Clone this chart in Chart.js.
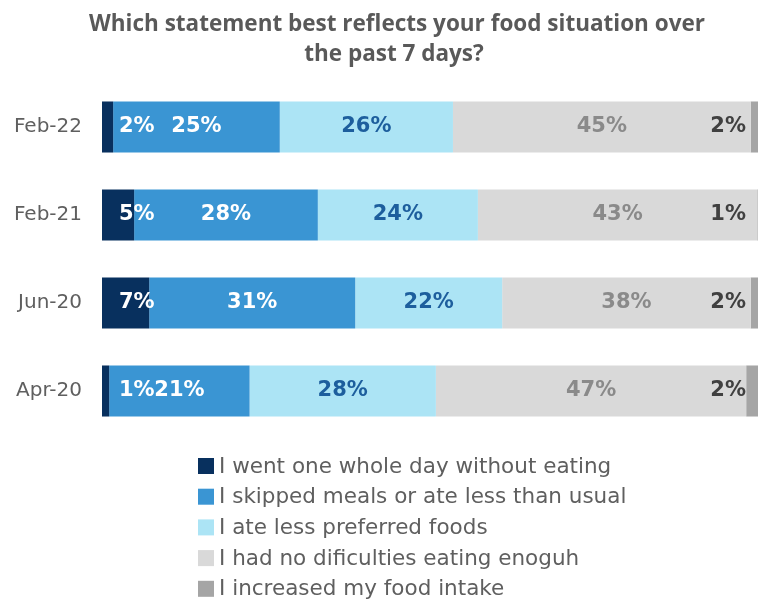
<!DOCTYPE html>
<html>
<head>
<meta charset="utf-8">
<script src="https://cdn.jsdelivr.net/npm/chart.js@4"></script>
<style>
  body { margin: 0; background: #fff; }
  #wrap { width: 758px; height: 600px; }
</style>
</head>
<body>
<div id="wrap"><canvas id="foodChart" width="758" height="600"></canvas></div>
<script>
// values (labels are the rounded values)
const categories = ['Feb-22', 'Feb-21', 'Jun-20', 'Apr-20'];
const seriesNames = [
    'I went one whole day without eating',
    'I skipped meals or ate less than usual',
    'I ate less preferred foods',
    'I had no dificulties eating enoguh',
    'I increased my food intake'
];
const noDayEating = [1.7, 4.9, 7.2, 1.1];
const skippedMeals = [25.4, 28.0, 31.4, 21.4];
const lessPreferred = [26.4, 24.4, 22.4, 28.4];
const noDifficulties = [45.4, 42.6, 37.9, 47.3];
const increasedIntake = [1.5, 1.0, 1.6, 1.8];
const titleLines = ['Which statement best reflects your food situation over', 'the past 7 days?'];

const colors = ['#08305e', '#3a95d3', '#ace4f5', '#d9d9d9', '#a5a5a5'];
const labelColors = ['#ffffff', '#ffffff', '#1d5e9d', '#8a8a8a', '#404040'];

const allSeries = [noDayEating, skippedMeals, lessPreferred, noDifficulties, increasedIntake];

// draws the % inside the bars, plus title and legend
const extras = {
    id: 'extras',
    afterDatasetsDraw(chart) {
        const ctx = chart.ctx;
        const area = chart.chartArea;
        ctx.save();
        ctx.font = 'bold 21px "DejaVu Sans"';
        ctx.textBaseline = 'middle';
        chart.data.datasets.forEach((ds, i) => {
            const meta = chart.getDatasetMeta(i);
            meta.data.forEach((bar, j) => {
                const p = bar.getProps(['x', 'base', 'y'], true);
                const txt = Math.round(ds.data[j]) + '%';
                ctx.fillStyle = labelColors[i];
                if (i === 0) {
                    ctx.textAlign = 'left';
                    ctx.fillText(txt, p.base + 17, p.y);
                } else if (i === 4) {
                    ctx.textAlign = 'right';
                    ctx.fillText(txt, area.right - 12, p.y);
                } else {
                    ctx.textAlign = 'center';
                    ctx.fillText(txt, (p.x + p.base) / 2, p.y);
                }
            });
        });
        ctx.restore();
    },
    afterDraw(chart) {
        const ctx = chart.ctx;
        ctx.save();
        // title
        ctx.font = 'bold 22.5px "Open Sans"';
        ctx.fillStyle = '#595959';
        ctx.textAlign = 'center';
        ctx.textBaseline = 'alphabetic';
        ctx.fillText(titleLines[0], 397, 31);
        ctx.fillText(titleLines[1], 394, 61);
        // legend
        ctx.font = '21.5px "DejaVu Sans"';
        ctx.textAlign = 'left';
        ctx.textBaseline = 'middle';
        chart.data.datasets.forEach((ds, i) => {
            const y = 466 + i * 30.7;
            ctx.fillStyle = ds.backgroundColor;
            ctx.fillRect(198, y - 8, 16, 16);
            ctx.fillStyle = '#5f5f5f';
            ctx.fillText(ds.label, 219, y + 1);
        });
        ctx.restore();
    }
};

new Chart(document.getElementById('foodChart'), {
    type: 'bar',
    data: {
        labels: categories,
        datasets: allSeries.map((vals, i) => ({
            label: seriesNames[i],
            data: vals,
            backgroundColor: colors[i],
            borderWidth: 0,
            barPercentage: 0.58,
            categoryPercentage: 1.0
        }))
    },
    options: {
        indexAxis: 'y',
        responsive: false,
        animation: false,
        layout: {
            padding: { top: 83, bottom: 165, left: 12, right: 0 }
        },
        plugins: {
            legend: { display: false },
            tooltip: { enabled: false }
        },
        scales: {
            x: {
                stacked: true,
                min: 0,
                max: 100,
                display: false
            },
            y: {
                stacked: true,
                grid: { display: false, drawTicks: false },
                border: { display: false },
                afterFit(scale) { scale.width = 90; },
                ticks: {
                    color: '#5f5f5f',
                    padding: 20,
                    font: { family: 'DejaVu Sans', size: 20 }
                }
            }
        }
    },
    plugins: [extras]
});
</script>
</body>
</html>
